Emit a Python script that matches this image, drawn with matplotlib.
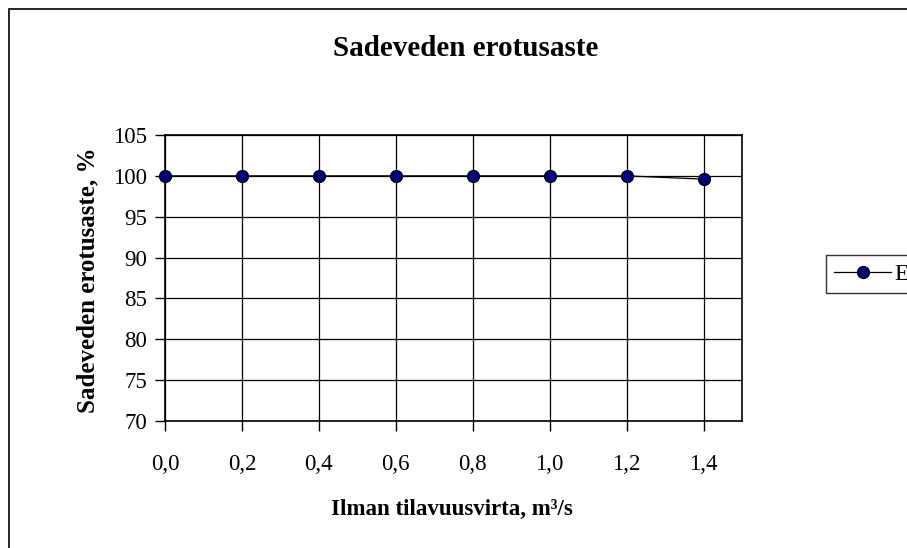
import matplotlib
matplotlib.use("Agg")
import matplotlib.pyplot as plt
from matplotlib.patches import Rectangle

# data
ilma = [0.0, 0.2, 0.4, 0.6, 0.8, 1.0, 1.2, 1.4]
erotus = [100, 100, 100, 100, 100, 100, 100, 99.6]
xticks = [0.0, 0.2, 0.4, 0.6, 0.8, 1.0, 1.2, 1.4]
xticklabels = ["0,0", "0,2", "0,4", "0,6", "0,8", "1,0", "1,2", "1,4"]
yticks = [70, 75, 80, 85, 90, 95, 100, 105]

plt.rcParams['font.family'] = ['Liberation Serif', 'DejaVu Serif']

W, H = 907, 548
fig = plt.figure(figsize=(W / 100, H / 100), dpi=100)

# outer chart border (right/bottom go past the picture)
fig.patches.append(Rectangle((9 / W, -0.2), 1.2, 1 - 9 / H + 0.2, transform=fig.transFigure,
                             fill=False, ec="black", lw=1.2, clip_on=False))

ax = fig.add_axes([165 / W, (H - 421) / H, (742 - 165) / W, (421 - 135) / H])
ax.plot(ilma, erotus, color="black", lw=0.9, marker="o", ms=8.5,
        mfc="#000080", mec="black", mew=1.0, label="E", zorder=3, clip_on=False)

ax.set_xlim(0, 1.5)
ax.set_ylim(70, 105)
ax.set_xticks(xticks)
ax.set_xticklabels(xticklabels)
ax.set_yticks(yticks)
ax.grid(True, color="black", lw=0.9)
ax.tick_params(axis="both", direction="out", length=7, width=1, labelsize=16.5, color="black")
ax.tick_params(axis="x", pad=17)
ax.tick_params(axis="y", pad=6)
for s in ax.spines.values():
    s.set_linewidth(1.2)
    s.set_color("black")

fig.text(466 / W, 1 - 49 / H, "Sadeveden erotusaste", ha="center", va="center",
         fontsize=21, fontweight="bold")
fig.text(452 / W, 1 - 509 / H, "Ilman tilavuusvirta, m³/s", ha="center", va="center",
         fontsize=16.5, fontweight="bold")
fig.text(88 / W, 1 - 280 / H, "Sadeveden erotusaste, %", ha="center", va="center",
         fontsize=18, fontweight="bold", rotation=90)

leg = fig.legend(loc="upper left", bbox_to_anchor=(826 / W, 1 - 255 / H), fontsize=17,
                 frameon=True, fancybox=False, handlelength=2.4, handletextpad=0.15,
                 borderpad=0.35, borderaxespad=0)
leg.get_frame().set_edgecolor("black")
leg.get_frame().set_linewidth(1.0)

fig.savefig("out.png", dpi=100)
